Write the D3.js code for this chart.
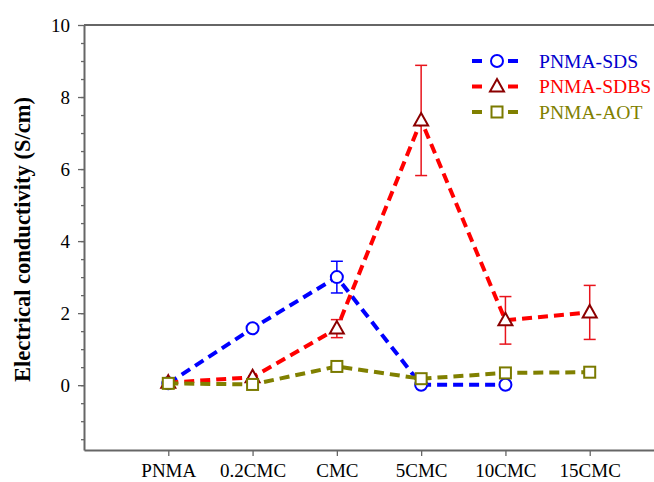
<!DOCTYPE html>
<html>
<head>
<meta charset="utf-8">
<script src="https://cdn.jsdelivr.net/npm/d3@7"></script>
<style>
  body { margin: 0; background: #fff; }
  svg text { font-family: "Liberation Serif", "Times New Roman", serif; }
</style>
</head>
<body>
<div class="container"></div>
<script>
// categories on the x axis
var categories = ["PNMA", "0.2CMC", "CMC", "5CMC", "10CMC", "15CMC"];

// series values (S/cm), null = no point
var sds      = [0.05, 1.58, 3.00, 0.01, 0.01, null];
var sdsErr   = [null, null, 0.44, null, null, null];
var sdbs     = [0.07, 0.22, 1.57, 7.35, 1.80, 2.02];
var sdbsErr  = [null, null, 0.25, 1.53, 0.66, 0.75];
var aot      = [0.05, 0.02, 0.52, 0.18, 0.34, 0.36];

var yMajor = [0, 2, 4, 6, 8, 10];
var yMinor = d3.range(-1.5, 10, 0.5);

var width = 654, height = 482;
var margin = {top: 25, left: 84, bottom: 32};

var svg = d3.select("div.container").append("svg")
    .attr("width", width)
    .attr("height", height);

// index -1 sits on the y axis, the right edge runs off the picture
var x_scale = d3.scaleLinear().domain([-1, 6]).range([margin.left, 674]);
var y_scale = d3.scaleLinear().domain([-1.8, 10]).range([height - margin.bottom, margin.top]);

var axisColor = "#666";

// top frame line
svg.append("line")
    .attr("x1", x_scale(-1)).attr("x2", width)
    .attr("y1", y_scale(10)).attr("y2", y_scale(10))
    .attr("stroke", axisColor).attr("stroke-width", 2);

// y axis: minor ticks then major
var yMinorAxis = svg.append("g")
    .attr("transform", "translate(" + margin.left + ",0)")
    .call(d3.axisLeft(y_scale).tickValues(yMinor).tickSize(3).tickSizeOuter(0).tickFormat(""));
yMinorAxis.select(".domain").remove();

var yAxis = svg.append("g")
    .attr("transform", "translate(" + margin.left + ",0)")
    .call(d3.axisLeft(y_scale).tickValues(yMajor).tickSize(6).tickSizeOuter(0).tickPadding(8));
yAxis.selectAll("text").attr("font-size", 19).attr("fill", "#000");

svg.selectAll(".tick line").attr("stroke", axisColor).attr("stroke-width", 1.3);
yAxis.select(".domain").attr("stroke", axisColor).attr("stroke-width", 2);

// x axis
var xAxis = svg.append("g")
    .attr("transform", "translate(0," + y_scale(-1.8) + ")")
    .call(d3.axisBottom(x_scale)
        .tickValues(d3.range(categories.length))
        .tickFormat(function(i) { return categories[i]; })
        .tickSize(6).tickSizeOuter(0).tickPadding(8));
xAxis.selectAll("text").attr("font-size", 19).attr("fill", "#000");
xAxis.selectAll(".tick line").attr("stroke", axisColor).attr("stroke-width", 1.3);
xAxis.select(".domain").attr("stroke", axisColor).attr("stroke-width", 2);

// y axis title
svg.append("text")
    .attr("transform", "translate(30," + (margin.top + (y_scale(-1.8) - margin.top) / 2 + 2) + ") rotate(-90)")
    .attr("text-anchor", "middle")
    .attr("font-size", 22.5)
    .attr("font-weight", "bold")
    .text("Electrical conductivity (S/cm)");

var series = [
  {name: "PNMA-SDS",  values: sds,  err: sdsErr,  line: "#0000ff", mark: "#0000ff", bar: "#0000ff", text: "#0000cc", shape: "circle"},
  {name: "PNMA-SDBS", values: sdbs, err: sdbsErr, line: "#ff0000", mark: "#8b0000", bar: "#e8141c", text: "#ff0000", shape: "triangle"},
  {name: "PNMA-AOT",  values: aot,  err: null,    line: "#808000", mark: "#7a7a00", bar: "#808000", text: "#808000", shape: "square"}
];

function drawMarker(g, shape, color, cx, cy) {
  if (shape === "circle") {
    g.append("circle").attr("cx", cx).attr("cy", cy).attr("r", 6)
        .attr("fill", "#fff").attr("stroke", color).attr("stroke-width", 2);
  } else if (shape === "triangle") {
    g.append("path")
        .attr("d", "M" + cx + "," + (cy - 7.5) + "L" + (cx + 7) + "," + (cy + 5) + "L" + (cx - 7) + "," + (cy + 5) + "Z")
        .attr("fill", "#fff").attr("stroke", color).attr("stroke-width", 2);
  } else {
    g.append("rect").attr("x", cx - 5.5).attr("y", cy - 5.5).attr("width", 11).attr("height", 11)
        .attr("fill", "#fff").attr("stroke", color).attr("stroke-width", 2);
  }
}

var line = d3.line()
    .defined(function(d) { return d[1] !== null; })
    .x(function(d) { return x_scale(d[0]); })
    .y(function(d) { return y_scale(d[1]); });

series.forEach(function(s) {
  var g = svg.append("g");
  var pts = s.values.map(function(v, i) { return [i, v]; });

  g.append("path")
      .datum(pts)
      .attr("fill", "none")
      .attr("stroke", s.line)
      .attr("stroke-width", 4)
      .attr("stroke-dasharray", "10,6")
      .attr("d", line);

  if (s.err) {
    s.err.forEach(function(e, i) {
      if (e === null) return;
      var cx = x_scale(i), y1 = y_scale(s.values[i] + e), y2 = y_scale(s.values[i] - e);
      g.append("line").attr("x1", cx).attr("x2", cx).attr("y1", y1).attr("y2", y2)
          .attr("stroke", s.bar).attr("stroke-width", 1.5);
      [y1, y2].forEach(function(yy) {
        g.append("line").attr("x1", cx - 6).attr("x2", cx + 6).attr("y1", yy).attr("y2", yy)
            .attr("stroke", s.bar).attr("stroke-width", 1.5);
      });
    });
  }

  pts.forEach(function(p) {
    if (p[1] === null) return;
    drawMarker(g, s.shape, s.mark, x_scale(p[0]), y_scale(p[1]));
  });
});

// legend
var legend = svg.append("g");
series.forEach(function(s, i) {
  var ly = 61 + i * 25.5;
  legend.append("line").attr("x1", 472).attr("x2", 482).attr("y1", ly).attr("y2", ly)
      .attr("stroke", s.line).attr("stroke-width", 4);
  legend.append("line").attr("x1", 508).attr("x2", 518).attr("y1", ly).attr("y2", ly)
      .attr("stroke", s.line).attr("stroke-width", 4);
  drawMarker(legend, s.shape, s.mark, 497, ly);
  legend.append("text")
      .attr("x", 539).attr("y", ly + 6.5)
      .attr("font-size", 19.6)
      .attr("fill", s.text)
      .text(s.name);
});
</script>
</body>
</html>
